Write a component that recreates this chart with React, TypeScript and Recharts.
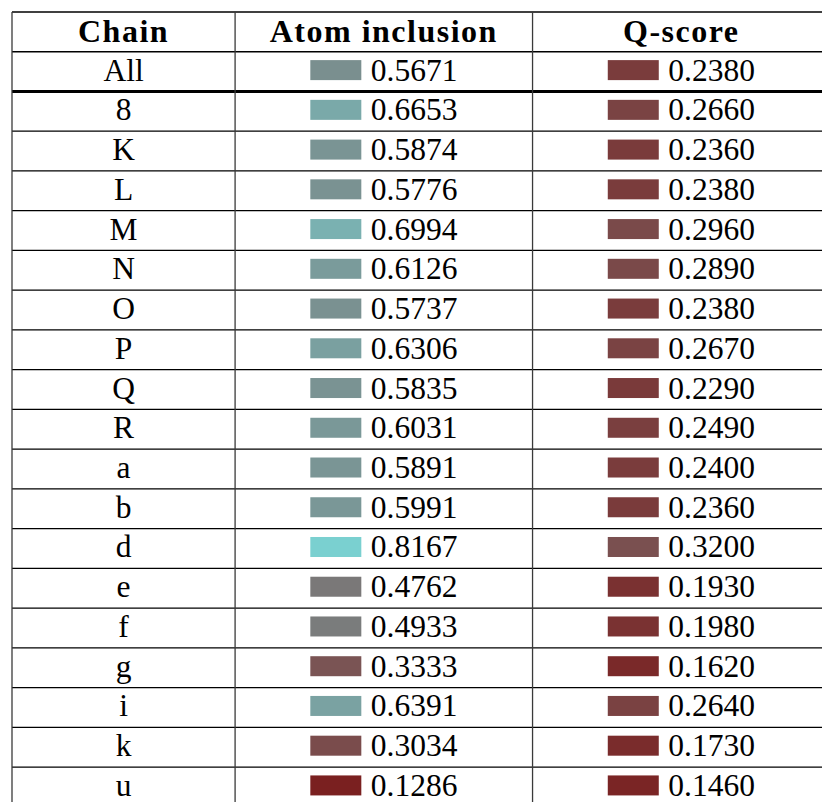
import React from "react";
import { ScatterChart, Scatter, XAxis, YAxis, ReferenceLine } from "recharts";

// ---- data ----
const headers = ["Chain", "Atom inclusion", "Q-score"];
const chains = ["All", "8", "K", "L", "M", "N", "O", "P", "Q", "R", "a", "b", "d", "e", "f", "g", "i", "k", "u"];
const atomInclusion = [0.5671, 0.6653, 0.5874, 0.5776, 0.6994, 0.6126, 0.5737, 0.6306, 0.5835, 0.6031, 0.5891, 0.5991, 0.8167, 0.4762, 0.4933, 0.3333, 0.6391, 0.3034, 0.1286];
const qScore = [0.238, 0.266, 0.236, 0.238, 0.296, 0.289, 0.238, 0.267, 0.229, 0.249, 0.24, 0.236, 0.32, 0.193, 0.198, 0.162, 0.264, 0.173, 0.146];

// ---- layout (column widths in relative units) ----
const colSpans = [3, 4, 4];
const colStarts = colSpans.map((_, i) => colSpans.slice(0, i).reduce((a, b) => a + b, 0));
const colCenters = colSpans.map((s, i) => colStarts[i] + s / 2);
const totalUnits = colSpans.reduce((a, b) => a + b, 0);

const FONT = "'Liberation Serif', 'Times New Roman', serif";

function colorFor(v: number): string {
  const r = 122;
  const mid = 0.485;
  let g: number;
  if (v <= mid) g = Math.round((122 * v) / mid);
  else g = Math.round(122 + ((255 - 122) * (v - mid)) / (1 - mid));
  return `rgb(${r},${g},${g})`;
}

const headerData = headers.map((h, i) => ({ x: colCenters[i], y: -1, text: h }));
const chainData = chains.map((c, i) => ({ x: colCenters[0], y: i, text: c }));
const atomData = atomInclusion.map((v, i) => ({ x: colCenters[1], y: i, value: v }));
const qData = qScore.map((v, i) => ({ x: colCenters[2], y: i, value: v }));

const rowBoundaries = [-1.5, ...chains.map((_, i) => i - 0.5), chains.length - 0.5];

const HeaderShape = (props: any) => {
  const { cx, cy, payload } = props;
  return (
    <text x={cx} y={cy + 10} textAnchor="middle" fontFamily={FONT} fontWeight="bold" fontSize={32} letterSpacing={1.5} fill="#000">
      {payload.text}
    </text>
  );
};

const LabelShape = (props: any) => {
  const { cx, cy, payload } = props;
  return (
    <text x={cx} y={cy + 9} textAnchor="middle" fontFamily={FONT} fontSize={31.5} fill="#000">
      {payload.text}
    </text>
  );
};

const ValueShape = (props: any) => {
  const { cx, cy, payload } = props;
  return (
    <g>
      <rect x={cx - 73.5} y={cy - 11.5} width={51} height={20} fill={colorFor(payload.value)} />
      <text x={cx - 13} y={cy + 9} textAnchor="start" fontFamily={FONT} fontSize={31.5} fill="#000">
        {payload.value.toFixed(4)}
      </text>
    </g>
  );
};

export default function App() {
  const W = 830;
  const H = 830;
  const top = 12;
  const left = 12;
  const rowH = 39.74;
  const plotH = rowH * (chains.length + 1);
  return (
    <div style={{ position: "absolute", left: 0, top: 0, width: 822, height: 802, overflow: "hidden", background: "#fff" }}>
      <ScatterChart width={W} height={H} margin={{ top, left, right: 0, bottom: H - top - plotH }}>
        <XAxis type="number" dataKey="x" domain={[0, totalUnits]} hide height={0} allowDataOverflow />
        <YAxis type="number" dataKey="y" domain={[-1.5, chains.length - 0.5]} reversed hide width={0} allowDataOverflow />
        {rowBoundaries.map((b) => (
          <ReferenceLine
            key={"h" + b}
            y={b}
            stroke="#000"
            strokeWidth={b === 0.5 ? 3.2 : 1.3}
            ifOverflow="visible"
          />
        ))}
        {[...colStarts, totalUnits].map((b) => (
          <ReferenceLine key={"v" + b} x={b} stroke="#3a3a3a" strokeWidth={1.3} ifOverflow="visible" />
        ))}
        <Scatter data={headerData} shape={HeaderShape} isAnimationActive={false} />
        <Scatter data={chainData} shape={LabelShape} isAnimationActive={false} />
        <Scatter data={atomData} shape={ValueShape} isAnimationActive={false} />
        <Scatter data={qData} shape={ValueShape} isAnimationActive={false} />
      </ScatterChart>
    </div>
  );
}
